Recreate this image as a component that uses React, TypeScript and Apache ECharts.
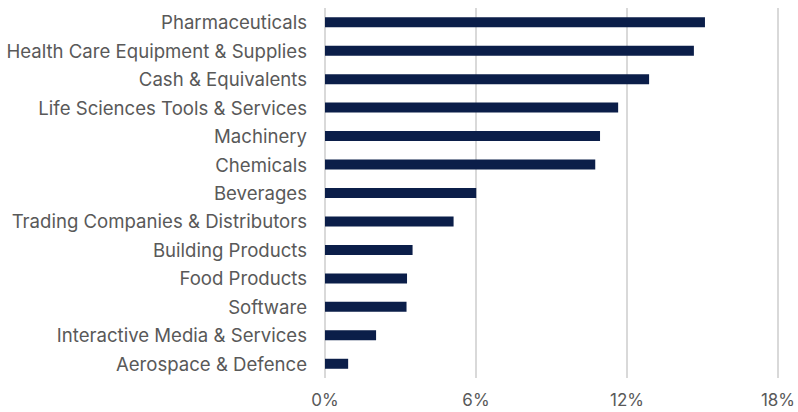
import React, { useEffect, useRef } from "react";
import * as echarts from "echarts";

const categories = [
  "Pharmaceuticals",
  "Health Care Equipment & Supplies",
  "Cash & Equivalents",
  "Life Sciences Tools & Services",
  "Machinery",
  "Chemicals",
  "Beverages",
  "Trading Companies & Distributors",
  "Building Products",
  "Food Products",
  "Software",
  "Interactive Media & Services",
  "Aerospace & Defence",
];
const values = [15.1, 14.66, 12.88, 11.65, 10.93, 10.74, 6.01, 5.11, 3.48, 3.26, 3.24, 2.03, 0.92];
const xTicks = { min: 0, max: 18, interval: 6 };

export default function App() {
  const ref = useRef<HTMLDivElement>(null);
  useEffect(() => {
    if (!ref.current) return;
    const chart = echarts.init(ref.current, undefined, { renderer: "svg" });
    chart.setOption({
      animation: false,
      grid: { left: 325, right: 19, top: 8, bottom: 34, containLabel: false },
      xAxis: {
        type: "value",
        min: xTicks.min,
        max: xTicks.max,
        interval: xTicks.interval,
        axisLine: { show: false },
        axisTick: { show: false },
        splitLine: { show: true, lineStyle: { color: "#d9d9d9", width: 2 } },
        axisLabel: {
          formatter: "{value}%",
          color: "#595959",
          fontFamily: "Inter",
          fontSize: 17,
          margin: 13,
        },
      },
      yAxis: {
        type: "category",
        data: categories,
        inverse: true,
        axisLine: { show: false },
        axisTick: { show: false },
        axisLabel: {
          color: "#595959",
          fontFamily: "Inter",
          fontSize: 18.6,
          margin: 18,
        },
      },
      series: [
        {
          type: "bar",
          data: values,
          barWidth: 10,
          itemStyle: { color: "#0b1e49" },
        },
      ],
    });
    return () => chart.dispose();
  }, []);
  return <div ref={ref} style={{ width: 798, height: 412, position: "absolute", left: 0, top: 0 }} />;
}
